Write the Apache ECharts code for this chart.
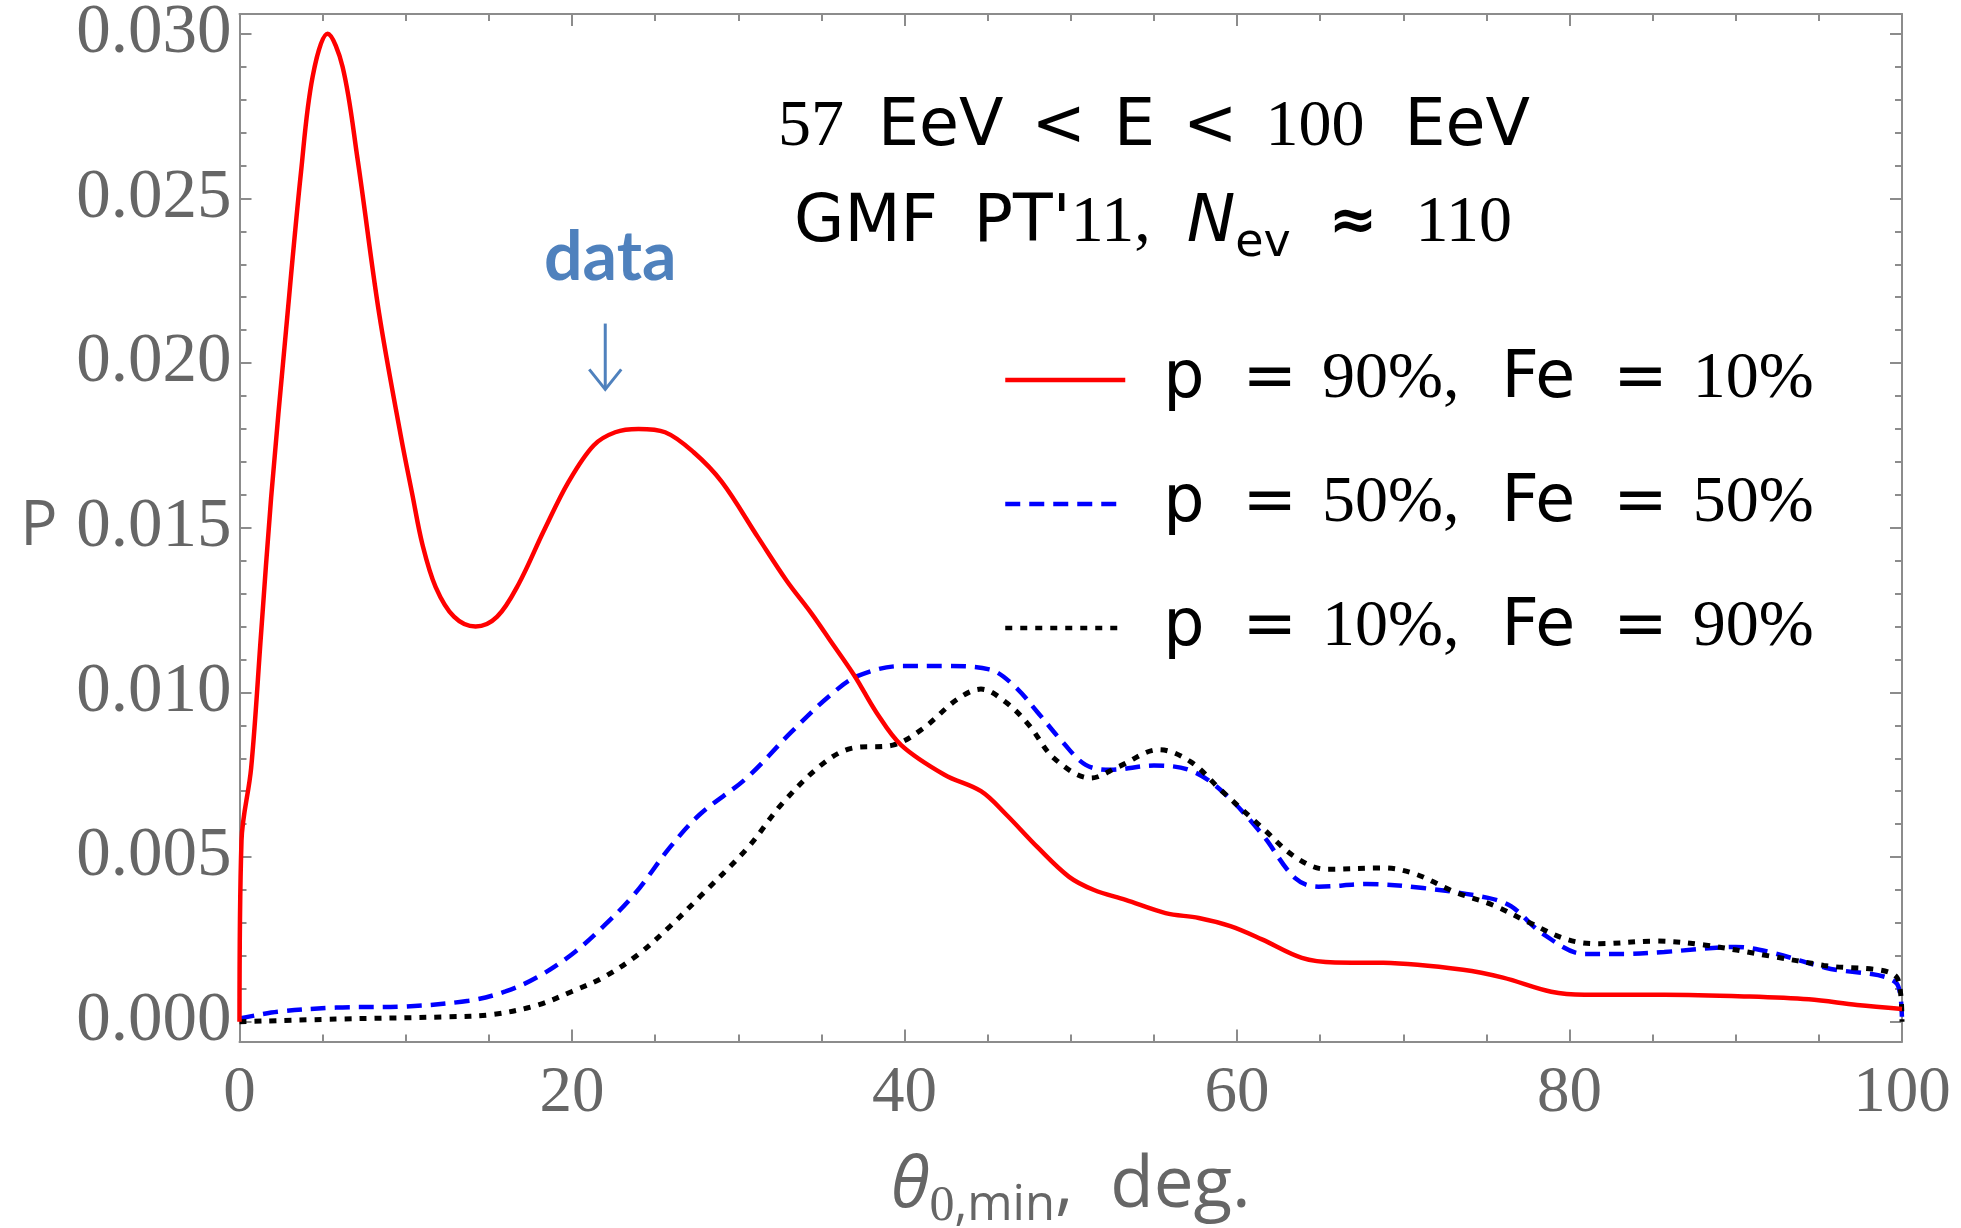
<!DOCTYPE html>
<html><head><meta charset="utf-8">
<script src="https://cdn.jsdelivr.net/npm/echarts@6/dist/echarts.min.js"></script>
<style>html,body{margin:0;padding:0;background:#fff}#c{width:1961px;height:1228px}</style>
</head><body><div id="c"></div>
<script>
// ---- data ----
const redX = [0,0.12,0.7,1.3,1.9,2.8,3.7,4.4,5.3,6.2,7.1,8.4,9.7,10.4,11.0,11.8,12.9,14.2,15.5,16.8,18.3,19.8,21.3,22.6,24.0,25.6,27.3,29.0,31.2,32.9,34.4,35.5,37.0,38.3,39.8,42.4,44.6,46.1,48.0,49.9,51.4,53.3,55.7,57.7,59.6,61.5,63.9,65.9,68.8,73.6,76.0,78.9,80.9,85.7,90.5,94.4,97.3,100];
const redY = [0,0.0055,0.0077,0.0118,0.0159,0.0210,0.0258,0.0287,0.0300,0.0290,0.0262,0.0215,0.0178,0.0160,0.0145,0.0132,0.0123,0.0120,0.0123,0.0133,0.0149,0.0164,0.0175,0.0179,0.0180,0.0179,0.0173,0.0164,0.0147,0.0134,0.0124,0.0116,0.0105,0.0094,0.0084,0.0075,0.0070,0.0063,0.0053,0.0044,0.0040,0.0037,0.0033,0.00315,0.0029,0.0025,0.00194,0.0018,0.00179,0.00158,0.00134,0.00091,0.00082,0.00082,0.00077,0.00068,0.00051,0.00039];
const blueX = [0,2.3,5.8,9.8,13.8,16.0,17.9,20.0,21.9,23.8,25.9,27.7,30.5,33.2,35.5,37.2,39.8,42.5,45.1,46.6,48.0,49.5,50.9,52.4,55.0,57.2,59.1,61.5,63.5,64.9,67.8,71.2,75.1,76.5,78.4,80.9,83.3,85.7,90.0,92.0,95.4,99.7,100];
const blueY = [0.0001,0.0003,0.00043,0.00046,0.00064,0.00092,0.00135,0.00205,0.0029,0.0039,0.0053,0.0063,0.0074,0.0088,0.0099,0.0105,0.0108,0.0108,0.0107,0.0102,0.0094,0.0085,0.0078,0.00765,0.00778,0.00763,0.0070,0.0057,0.00436,0.0041,0.00418,0.00406,0.00376,0.0035,0.00267,0.00206,0.00206,0.00212,0.00227,0.00212,0.00164,0.00115,0];
const blackX = [0,5.8,12.5,15.2,17.9,20.0,21.9,24.0,25.9,27.7,30.6,32.6,35.0,36.8,39.3,41.1,43.2,44.6,46.1,47.5,49.0,51.2,52.9,55.3,57.2,59.1,61.5,63.5,65.4,68.8,70.7,73.1,75.5,77.5,79.9,81.8,85.2,88.1,92.0,95.3,99.7,100];
const blackY = [0,0.00008,0.00015,0.00022,0.0005,0.00092,0.00135,0.00205,0.0029,0.0038,0.0053,0.0066,0.0078,0.0083,0.0084,0.0089,0.0098,0.0101,0.0097,0.0090,0.0080,0.0074,0.00775,0.00826,0.0079,0.0070,0.0059,0.0050,0.00463,0.00467,0.00449,0.00394,0.00352,0.00303,0.00249,0.00237,0.00245,0.00233,0.0020,0.00171,0.00134,0];
const pShare = [90, 50, 10];
const feShare = [10, 50, 90];
const seriesNames = pShare.map((p, i) => 'p = ' + p + '%, Fe = ' + feShare[i] + '%');
const xTickValues = [0, 20, 40, 60, 80, 100];
const yTickLabels = ['0.000', '0.005', '0.010', '0.015', '0.020', '0.025', '0.030'];
const arrowX = 22, arrowTop = 0.0212, arrowTip = 0.0192;
const dataLabelPos = [22.3, 0.0232];

// ---- chart ----
const zip = (xs, ys) => xs.map((x, i) => [x, ys[i]]);
const AX = '#8c8c8c', TXT = '#666666';
const SANS = 'DejaVu Sans', SERIF = 'Liberation Serif';
const yMin = -0.0006, yMax = 0.0306;

function yFmt(v) {
  const k = Math.round(v / 0.005);
  if (Math.abs(v - k * 0.005) < 1e-7 && k >= 0 && k < yTickLabels.length) return yTickLabels[k];
  return '';
}
function xFmt(v) { return xTickValues.indexOf(v) >= 0 ? String(v) : ''; }

const tickStyle = { color: AX, width: 2 };
function xAxisDef(pos, labels) {
  return {
    type: 'value', min: 0, max: 100, interval: 20, position: pos,
    axisLine: { show: true, onZero: false, lineStyle: { color: AX, width: 2 } },
    axisTick: { show: true, inside: true, length: 12, lineStyle: tickStyle },
    minorTick: { show: true, splitNumber: 4, length: 7, lineStyle: tickStyle },
    splitLine: { show: false }, minorSplitLine: { show: false },
    axisLabel: { show: labels, color: TXT, fontFamily: SERIF, fontSize: 65, margin: 20, formatter: xFmt, showMinLabel: true, showMaxLabel: true, hideOverlap: false }
  };
}
function yAxisDef(pos, labels) {
  return {
    type: 'value', min: yMin, max: yMax, splitNumber: 6, position: pos,
    axisLine: { show: true, onZero: false, lineStyle: { color: AX, width: 2 } },
    axisTick: { show: true, inside: true, length: 12, lineStyle: tickStyle },
    minorTick: { show: true, splitNumber: 5, length: 7, lineStyle: tickStyle },
    splitLine: { show: false }, minorSplitLine: { show: false },
    axisLabel: { show: labels, color: TXT, fontFamily: SERIF, fontSize: 69, margin: 8, formatter: yFmt, showMinLabel: true, showMaxLabel: true, hideOverlap: false }
  };
}

const xa0 = xAxisDef('bottom', true);
xa0.name = '{th|θ}{z|0}{m|,min}{d|,  deg.}';
xa0.nameLocation = 'middle';
xa0.nameGap = 108;
xa0.nameTextStyle = {
  color: TXT, fontFamily: 'Open Sans', fontSize: 70,
  rich: {
    th: { fontFamily: 'Open Sans', fontStyle: 'italic', fontSize: 71, lineHeight: 74, color: TXT },
    z: { fontFamily: SERIF, fontSize: 50, lineHeight: 20, padding: [40, 0, 0, 0], color: TXT },
    m: { fontFamily: 'Open Sans', fontSize: 49, lineHeight: 20, padding: [40, 0, 0, 0], color: TXT },
    d: { fontFamily: 'Open Sans', fontSize: 71, lineHeight: 74, color: TXT }
  }
};
const ya0 = yAxisDef('left', true);
ya0.name = 'P';
ya0.nameLocation = 'middle';
ya0.nameRotate = 0;
ya0.nameGap = 182;
ya0.nameTextStyle = { color: TXT, fontFamily: 'Open Sans', fontSize: 62 };

const richT = {
  n: { fontFamily: SERIF, fontSize: 66, lineHeight: 76, fontWeight: 'normal', color: '#000' },
  s: { fontFamily: SANS, fontSize: 65, lineHeight: 76, fontWeight: 'normal', color: '#000' },
  it: { fontFamily: SANS, fontStyle: 'italic', fontSize: 65, lineHeight: 76, fontWeight: 'normal', color: '#000' },
  sub: { fontFamily: SANS, fontSize: 46, lineHeight: 20, fontWeight: 'normal', padding: [40, 0, 0, 0], color: '#000' },
  ap: { fontFamily: SANS, fontWeight: 'bold', fontSize: 58, lineHeight: 76, color: '#000' },
  g1: { width: 34 }, g2: { width: 28 }, g3: { width: 40 }, g4: { width: 36 }, g5: { width: 38 }
};

const option = {
  animation: false,
  backgroundColor: '#ffffff',
  grid: { left: 239.5, right: 59, top: 14, bottom: 186.5, containLabel: false, outerBoundsMode: 'none' },
  xAxis: [xa0, xAxisDef('top', false)],
  yAxis: [ya0, yAxisDef('right', false)],
  title: [
    { text: '{n|57}{g1| }{s|EeV}{g2| }{s|<}{g2| }{s|E}{g2| }{s|<}{g2| }{n|100}{g3| }{s|EeV}',
      left: 1154, top: 90, textAlign: 'center', padding: 0, textStyle: { fontWeight: 'normal', rich: richT } },
    { text: '{s|GMF}{g4| }{s|PT\'}{n|11,}{g4| }{it|N}{sub|ev}{g5| }{ap|≈}{g5| }{n|110}',
      left: 1153, top: 186, textAlign: 'center', padding: 0, textStyle: { fontWeight: 'normal', rich: richT } }
  ],
  legend: {
    orient: 'vertical', left: 1003, top: 347, itemWidth: 120, itemHeight: 50, itemGap: 58,
    data: seriesNames, selectedMode: false, padding: 0,
    itemStyle: { opacity: 0 },
    lineStyle: { width: 4.5 },
    formatter: function (name) {
      const m = name.match(/^p = (\d+)%, Fe = (\d+)%$/);
      return '{g| }{s|p}{wa| }{s|=}{wb| }{n|' + m[1] + '%,}{w2| }{s|Fe}{wa| }{s|=}{wb| }{n|' + m[2] + '%}';
    },
    textStyle: {
      lineHeight: 50,
      rich: {
        g: { width: 33, lineHeight: 50 },
        s: { fontFamily: SANS, fontSize: 65, lineHeight: 50, color: '#000' },
        n: { fontFamily: SERIF, fontSize: 66, lineHeight: 50, color: '#000' },
        wa: { width: 38, lineHeight: 50 }, wb: { width: 25, lineHeight: 50 }, w2: { width: 42, lineHeight: 50 }
      }
    }
  },
  series: [
    { name: seriesNames[0], type: 'line', data: zip(redX, redY), showSymbol: false, symbol: 'none',
      smooth: 0.35, lineStyle: { color: '#ff0000', width: 4.5 }, itemStyle: { color: '#ff0000' }, z: 3 },
    { name: seriesNames[1], type: 'line', data: zip(blueX, blueY), showSymbol: false, symbol: 'none',
      smooth: 0.35, lineStyle: { color: '#0000ff', width: 4.5, type: [15, 9] }, itemStyle: { color: '#0000ff' }, z: 2 },
    { name: seriesNames[2], type: 'line', data: zip(blackX, blackY), showSymbol: false, symbol: 'none',
      smooth: 0.35, lineStyle: { color: '#000000', width: 5, type: [7, 8] }, itemStyle: { color: '#000000' }, z: 2 }
  ]
};

const chart = echarts.init(document.getElementById('c'), null, { renderer: 'canvas' });
chart.setOption(option);

const arrTop = chart.convertToPixel({ xAxisIndex: 0, yAxisIndex: 0 }, [arrowX, arrowTop]);
const arrTip = chart.convertToPixel({ xAxisIndex: 0, yAxisIndex: 0 }, [arrowX, arrowTip]);
const labPos = chart.convertToPixel({ xAxisIndex: 0, yAxisIndex: 0 }, dataLabelPos);
const BLUE = '#4f81bd';
chart.setOption({
  graphic: [
    { type: 'text', x: labPos[0], y: labPos[1], style: { text: 'data', fill: BLUE, font: 'bold 68px Lato', textAlign: 'center', textVerticalAlign: 'middle' } },
    { type: 'line', shape: { x1: arrTop[0], y1: arrTop[1], x2: arrTip[0], y2: arrTip[1] - 2 }, style: { stroke: BLUE, lineWidth: 3 } },
    { type: 'polyline', shape: { points: [[arrTip[0] - 16, arrTip[1] - 20], [arrTip[0], arrTip[1]], [arrTip[0] + 16, arrTip[1] - 20]] }, style: { stroke: BLUE, lineWidth: 3, fill: null } }
  ]
});
</script>
</body></html>
